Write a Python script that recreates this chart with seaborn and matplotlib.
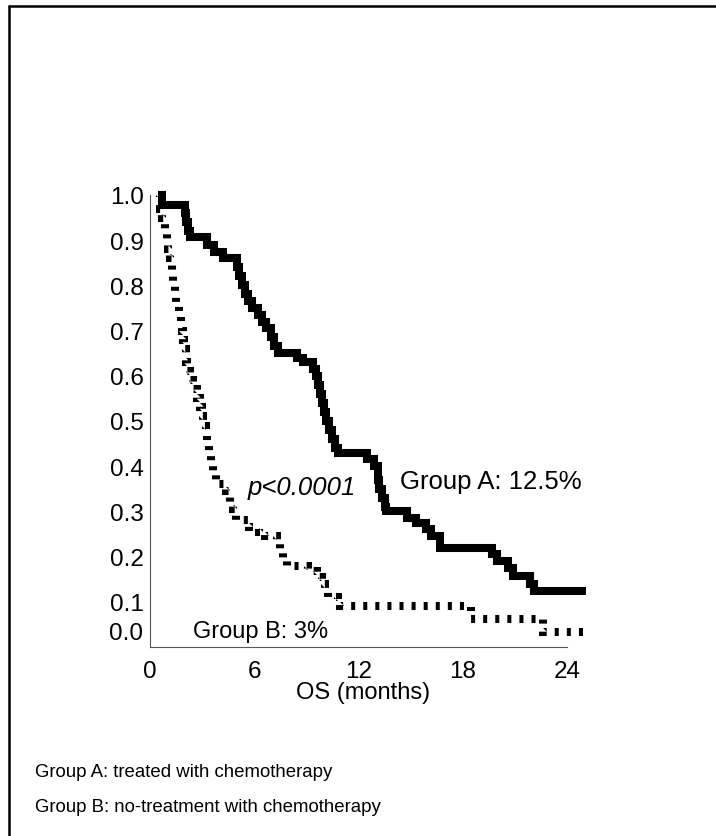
import matplotlib
matplotlib.use("Agg")
import matplotlib.pyplot as plt
import pandas as pd
import seaborn as sns
from matplotlib.lines import Line2D

# Kaplan-Meier steps (months, survival fraction)
group_a_time = [0.55, 0.7, 2.0, 2.1, 2.2, 2.3, 3.3, 3.7, 4.2, 5.0, 5.15, 5.3, 5.45,
                5.65, 5.9, 6.2, 6.45, 6.7, 6.95, 7.15, 7.35, 8.45, 8.8, 9.4, 9.55,
                9.7, 9.8, 9.9, 10.0, 10.15, 10.3, 10.45, 10.65, 10.85, 12.5, 12.9,
                13.1, 13.2, 13.35, 13.5, 13.6, 14.8, 15.3, 15.9, 16.2, 16.7, 19.7,
                20.0, 20.6, 20.9, 21.9, 22.1, 25.1]
group_a_surv = [1.0, 0.978, 0.96, 0.94, 0.92, 0.907, 0.89, 0.875, 0.86, 0.84, 0.82,
                0.80, 0.78, 0.765, 0.75, 0.735, 0.72, 0.705, 0.685, 0.665, 0.65,
                0.64, 0.63, 0.615, 0.60, 0.58, 0.56, 0.54, 0.52, 0.50, 0.48, 0.46,
                0.44, 0.43, 0.415, 0.40, 0.37, 0.35, 0.33, 0.31, 0.30, 0.285, 0.275,
                0.26, 0.245, 0.22, 0.205, 0.19, 0.175, 0.157, 0.14, 0.124, 0.124]

group_b_time = [0.45, 0.55, 0.7, 0.85, 0.95, 1.05, 1.15, 1.25, 1.3, 1.45, 1.5, 1.65,
                1.8, 1.85, 1.9, 1.95, 2.05, 2.15, 2.3, 2.5, 2.7, 2.85, 3.0, 3.05,
                3.25, 3.3, 3.4, 3.5, 3.65, 3.8, 4.0, 4.4, 4.6, 4.8, 4.95, 5.7, 6.3,
                6.6, 7.3, 7.5, 7.65, 7.9, 9.1, 9.6, 9.9, 10.1, 10.25, 10.8, 10.95,
                18.5, 22.6, 25.1]
group_b_surv = [1.0, 0.97, 0.95, 0.92, 0.90, 0.88, 0.86, 0.83, 0.80, 0.78, 0.76,
                0.74, 0.72, 0.70, 0.68, 0.66, 0.63, 0.61, 0.59, 0.57, 0.55, 0.53,
                0.51, 0.49, 0.47, 0.45, 0.43, 0.41, 0.39, 0.37, 0.36, 0.345, 0.32,
                0.305, 0.28, 0.265, 0.255, 0.245, 0.23, 0.215, 0.195, 0.18, 0.168,
                0.155, 0.14, 0.125, 0.11, 0.10, 0.09, 0.062, 0.033, 0.033]

x_ticks = [0, 6, 12, 18, 24]
y_ticks = [0.1, 0.2, 0.3, 0.4, 0.5, 0.6, 0.7, 0.8, 0.9, 1.0]

df = pd.concat([
    pd.DataFrame({"month": group_a_time, "survival": group_a_surv, "group": "A"}),
    pd.DataFrame({"month": group_b_time, "survival": group_b_surv, "group": "B"}),
])

sns.set_theme(style="white")
plt.rcParams["font.family"] = ["Liberation Sans", "DejaVu Sans"]
plt.rcParams["text.color"] = "black"

fig = plt.figure(figsize=(7.16, 8.37), dpi=100)
ax = fig.add_axes([150 / 716, 189 / 837, 436 / 716, 452 / 837])

sns.lineplot(
    data=df, x="month", y="survival", hue="group", style="group",
    palette={"A": "black", "B": "black"},
    dashes={"A": "", "B": (0.5, 1.0)},
    estimator=None, sort=False, drawstyle="steps-post",
    linewidth=5.8, legend=False, ax=ax,
)
for line in ax.lines:
    line.set_clip_on(False)
    line.set_solid_capstyle("butt")
    line.set_solid_joinstyle("miter")
    line.set_dash_joinstyle("miter")

ax.set_xlim(0, 25.1)
ax.set_ylim(0, 1.0)
ax.set_xticks(x_ticks)
ax.set_yticks(y_ticks)
ax.set_yticklabels([f"{v:.1f}" for v in y_ticks])
ax.tick_params(axis="both", direction="out", length=2.5, width=2.5,
               color="black", labelcolor="black")
ax.tick_params(axis="x", labelsize=17.5, pad=7)
ax.tick_params(axis="y", labelsize=17.5, pad=2)
ax.set_xlabel("")
ax.set_ylabel("")
sns.despine(ax=ax)
for side in ["left", "bottom"]:
    ax.spines[side].set_color("#555555")
    ax.spines[side].set_linewidth(0.8)
ax.spines["bottom"].set_bounds(0, 24)

# the 0.0 label sits a little above the axis
ax.annotate("0.0", xy=(0, 0), xycoords="data", xytext=(-7, 14),
            textcoords="offset pixels", ha="right", va="center", fontsize=17.5)

ax.text(14.38, 0.367, "Group A: 12.5%", fontsize=18.5, va="center", ha="left")
ax.text(5.64, 0.354, "p<0.0001", fontsize=18.5, style="italic", va="center", ha="left")
ax.text(2.47, 0.035, "Group B: 3%", fontsize=17, va="center", ha="left")

fig.text(0.507, 0.172, "OS (months)", fontsize=17, ha="center", va="center")
fig.text(35 / 716, 0.0765, "Group A: treated with chemotherapy", fontsize=13.4,
         ha="left", va="center")
fig.text(35 / 716, 0.0347, "Group B: no-treatment with chemotherapy", fontsize=13.4,
         ha="left", va="center")

# frame around the panel (top and left edges visible)
fig.add_artist(Line2D([9 / 716, 1], [1 - 7 / 837, 1 - 7 / 837],
                      transform=fig.transFigure, color="black", lw=1.8))
fig.add_artist(Line2D([9 / 716, 9 / 716], [0, 1 - 7 / 837],
                      transform=fig.transFigure, color="black", lw=1.8))

fig.savefig("out.png", dpi=100)
